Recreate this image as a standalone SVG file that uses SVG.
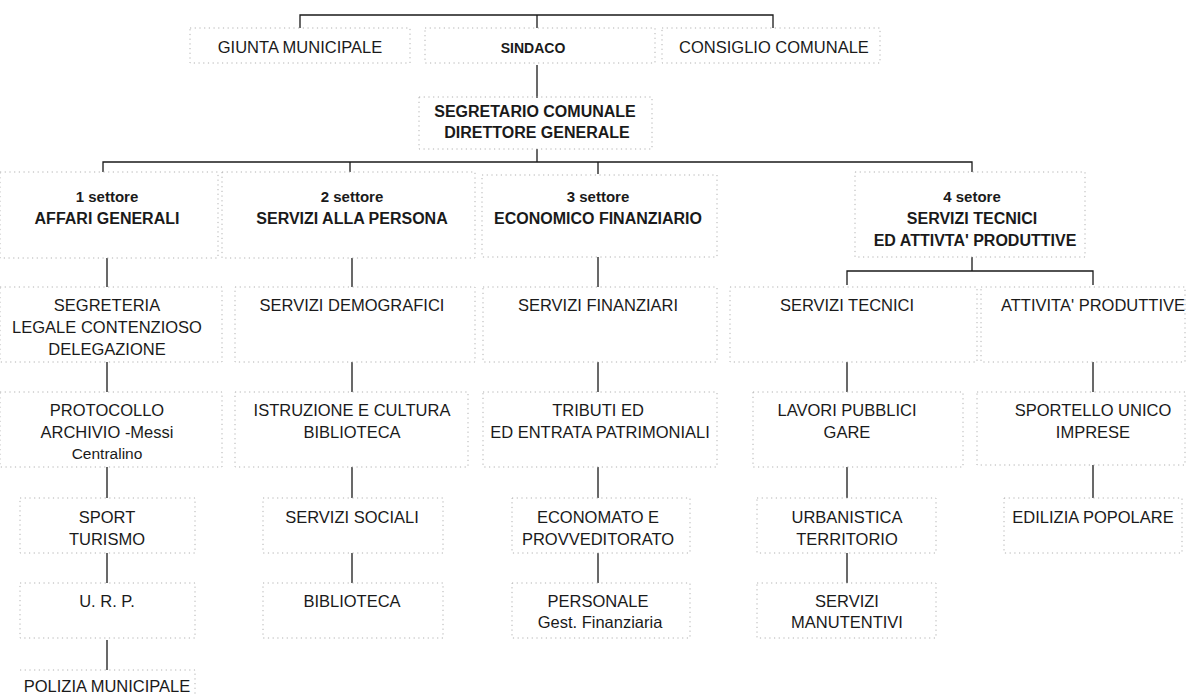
<svg xmlns="http://www.w3.org/2000/svg" width="1186" height="694" viewBox="0 0 1186 694">
<style>
.b{fill:none;stroke:#a8a8a8;stroke-width:0.9;stroke-dasharray:1.2 3.5}
.c{fill:none;stroke:#1a1a1a;stroke-width:1.3}
text{font-family:"Liberation Sans",Arial,sans-serif;fill:#1a1a1a;text-anchor:middle;font-size:16.5px}
.t{font-weight:bold;font-size:16px}
</style>
<rect width="1186" height="694" fill="#fff"/>
<g id="connectors">
<path class="c" d="M300,28V15H773V28M537,15V28M537,65V98"/>
<path class="c" d="M537,149V162M103,172V162H972V172M350,162V172M598,162V174"/>
<path class="c" d="M107,258V287M107,362V392M107,467V498M107,553V583M107,640V670"/>
<path class="c" d="M352,258V287M352,362V392M352,467V498M352,553V583"/>
<path class="c" d="M598,257V287M598,362V392M598,467V498M598,553V583"/>
<path class="c" d="M972,257V271M847,285V271H1093V285M847,362V392M847,467V498M847,553V583"/>
<path class="c" d="M1093,362V392M1093,465V498"/>
</g>
<g id="giunta"><rect class="b" x="190" y="28" width="220" height="35"/><text x="300" y="53">GIUNTA MUNICIPALE</text></g>
<g id="sindaco"><rect class="b" x="425" y="28" width="230" height="35"/><text class="t" x="533" y="53" style="font-size:14px">SINDACO</text></g>
<g id="consiglio"><rect class="b" x="662" y="28" width="218" height="35"/><text x="774" y="53">CONSIGLIO COMUNALE</text></g>
<g id="segretario"><rect class="b" x="419" y="97" width="233" height="52"/><text class="t" x="535" y="117">SEGRETARIO COMUNALE</text><text class="t" x="537" y="138">DIRETTORE GENERALE</text></g>
<g id="settore1"><rect class="b" x="0" y="172" width="218" height="86"/><text class="t" x="107" y="202" style="font-size:15px">1 settore</text><text class="t" x="107" y="224">AFFARI GENERALI</text></g>
<g id="settore2"><rect class="b" x="222" y="172" width="253" height="86"/><text class="t" x="352" y="202" style="font-size:15px">2 settore</text><text class="t" x="352" y="224">SERVIZI ALLA PERSONA</text></g>
<g id="settore3"><rect class="b" x="482" y="175" width="235" height="82"/><text class="t" x="598" y="202" style="font-size:15px">3 settore</text><text class="t" x="598" y="224">ECONOMICO FINANZIARIO</text></g>
<g id="settore4"><rect class="b" x="855" y="172" width="230" height="85"/><text class="t" x="972" y="202" style="font-size:15px">4 setore</text><text class="t" x="972" y="224">SERVIZI TECNICI</text><text class="t" x="975" y="246">ED ATTIVTA' PRODUTTIVE</text></g>
<g id="segreteria"><rect class="b" x="0" y="287" width="222" height="75"/><text x="107" y="311">SEGRETERIA</text><text x="107" y="333">LEGALE CONTENZIOSO</text><text x="107" y="355">DELEGAZIONE</text></g>
<g id="demografici"><rect class="b" x="235" y="287" width="240" height="75"/><text x="352" y="311">SERVIZI DEMOGRAFICI</text></g>
<g id="finanziari"><rect class="b" x="483" y="287" width="234" height="75"/><text x="598" y="311">SERVIZI FINANZIARI</text></g>
<g id="tecnici"><rect class="b" x="730" y="287" width="247" height="75"/><text x="847" y="311">SERVIZI TECNICI</text></g>
<g id="attivita"><rect class="b" x="981" y="287" width="204" height="75"/><text x="1093" y="311">ATTIVITA' PRODUTTIVE</text></g>
<g id="protocollo"><rect class="b" x="0" y="392" width="222" height="75"/><text x="107" y="416">PROTOCOLLO</text><text x="107" y="438">ARCHIVIO -Messi</text><text x="107" y="459" style="font-size:15.5px">Centralino</text></g>
<g id="istruzione"><rect class="b" x="235" y="392" width="233" height="75"/><text x="352" y="416">ISTRUZIONE E CULTURA</text><text x="352" y="438">BIBLIOTECA</text></g>
<g id="tributi"><rect class="b" x="483" y="392" width="234" height="75"/><text x="598" y="416">TRIBUTI ED</text><text x="600" y="438">ED ENTRATA PATRIMONIALI</text></g>
<g id="lavori"><rect class="b" x="753" y="392" width="210" height="75"/><text x="847" y="416">LAVORI PUBBLICI</text><text x="847" y="438">GARE</text></g>
<g id="sportello"><rect class="b" x="977" y="392" width="208" height="73"/><text x="1093" y="416">SPORTELLO UNICO</text><text x="1093" y="438">IMPRESE</text></g>
<g id="sport"><rect class="b" x="20" y="498" width="175" height="55"/><text x="107" y="523">SPORT</text><text x="107" y="545">TURISMO</text></g>
<g id="sociali"><rect class="b" x="263" y="498" width="180" height="55"/><text x="352" y="523">SERVIZI SOCIALI</text></g>
<g id="economato"><rect class="b" x="512" y="498" width="178" height="55"/><text x="598" y="523">ECONOMATO E</text><text x="598" y="545">PROVVEDITORATO</text></g>
<g id="urbanistica"><rect class="b" x="757" y="498" width="179" height="55"/><text x="847" y="523">URBANISTICA</text><text x="847" y="545">TERRITORIO</text></g>
<g id="edilizia"><rect class="b" x="1004" y="498" width="178" height="55"/><text x="1093" y="523">EDILIZIA POPOLARE</text></g>
<g id="urp"><rect class="b" x="20" y="583" width="175" height="55"/><text x="107" y="607">U. R. P.</text></g>
<g id="biblioteca"><rect class="b" x="263" y="583" width="180" height="55"/><text x="352" y="607">BIBLIOTECA</text></g>
<g id="personale"><rect class="b" x="512" y="583" width="178" height="55"/><text x="598" y="607">PERSONALE</text><text x="600" y="628">Gest. Finanziaria</text></g>
<g id="manutentivi"><rect class="b" x="757" y="583" width="179" height="55"/><text x="847" y="607">SERVIZI</text><text x="847" y="628">MANUTENTIVI</text></g>
<g id="polizia"><path class="b" d="M20,670H195V694"/><text x="107" y="692">POLIZIA MUNICIPALE</text></g>
</svg>
